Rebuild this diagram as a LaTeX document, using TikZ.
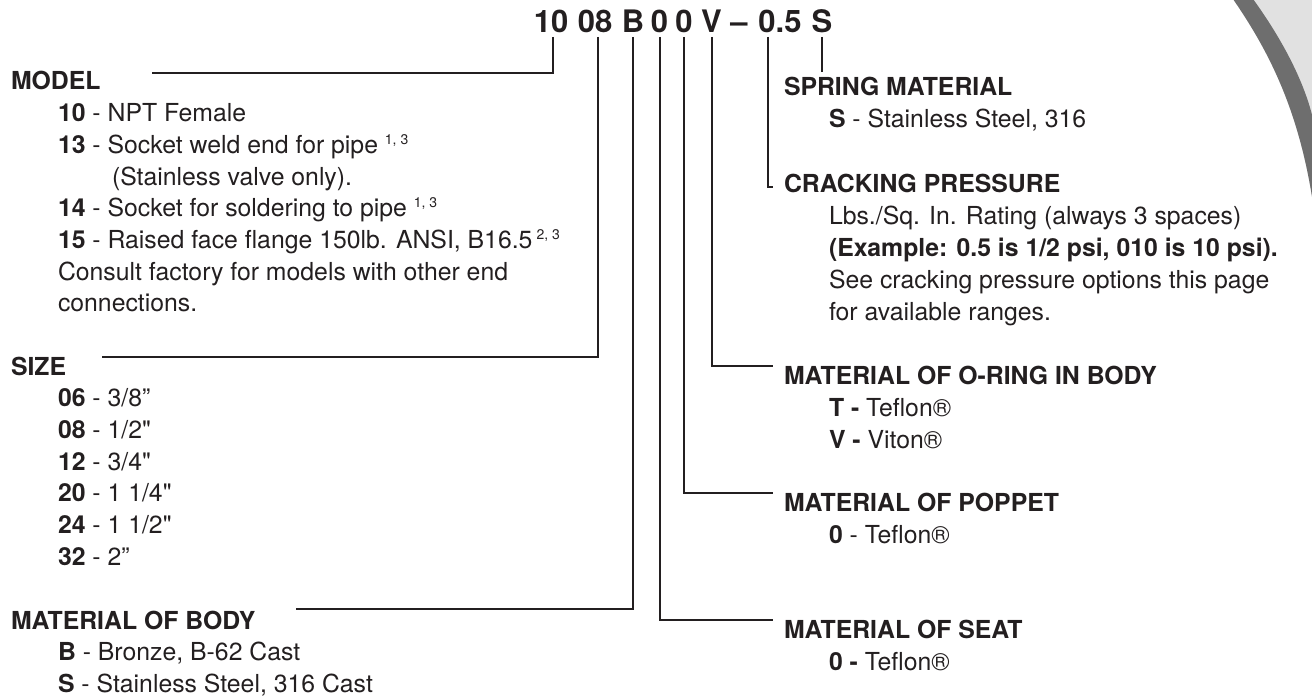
\documentclass[tikz,border=0pt]{standalone}
\usepackage{fontspec}
\setmainfont{TeX Gyre Heros}
\newfontfamily\plainheros{TeX Gyre Heros}
\usetikzlibrary{calc}
\definecolor{ink}{HTML}{231F20}
\definecolor{bandfill}{HTML}{E1E1E1}
\definecolor{banddark}{HTML}{6E6E6E}
\newcommand{\sups}[1]{\raisebox{9pt}{\fontsize{14}{14}\selectfont #1}}
\newcommand{\sq}{{\plainheros"}}
\begin{document}
\begin{tikzpicture}[x=1pt,y=-1pt,
  txt/.style={anchor=base west,inner sep=0pt,outer sep=0pt,text=ink,font=\fontsize{24.8}{29}\selectfont},
  hdr/.style={anchor=base west,inner sep=0pt,outer sep=0pt,text=ink,font=\fontsize{24.8}{29}\selectfont\bfseries},
  code/.style={anchor=base,inner sep=0pt,outer sep=0pt,text depth=0pt,text=ink,font=\fontsize{31}{31}\selectfont\bfseries},
  conn/.style={draw=ink,line width=2pt}]
\useasboundingbox (0,0) rectangle (1312,698);
% decorative band
\begin{scope}
\clip (0,0) rectangle (1312,698);
\fill[bandfill] (1233,-1) .. controls (1268,50) and (1300,110) .. (1314,210) -- (1340,210) -- (1340,-1) -- cycle;
\fill[banddark] (1233,-1) .. controls (1268,50) and (1300,110) .. (1314,210)
  -- (1313,180) .. controls (1330,125) and (1290,50) .. (1253,-1) -- cycle;
\end{scope}
% code
\node[code] (c10) at (551,33) {10};
\node[code] (c08) at (595,33) {08};
\node[code] (cB) at (633,33) {B};
\node[code] (c0a) at (659.5,33) {0};
\node[code] (c0b) at (684,33) {0};
\node[code] (cV) at (711.5,33) {V};
\node[code] (cdash) at (739,33) {\textendash};
\node[code] (c05) at (780,33) {0.5};
\node[code] (cS) at (822,33) {S};
% left column
\node[hdr] (model) at (11,90) {MODEL};
\node[txt] (m1) at (58,121.7) {\textbf{10} - NPT Female};
\node[txt] (m2) at (58,153.4) {\textbf{13} - Socket weld end for pipe \sups{1, 3}};
\node[txt] (m3) at (112,185.1) {(Stainless valve only).};
\node[txt] (m4) at (58,216.8) {\textbf{14} - Socket for soldering to pipe \sups{1, 3}};
\node[txt] (m5) at (58,248.5) {\textbf{15} - Raised face flange 150lb. ANSI, B16.5\,\sups{2, 3}};
\node[txt] (m6) at (58,280.2) {Consult factory for models with other end};
\node[txt] (m7) at (58,311.9) {connections.};
\node[hdr] (size) at (11,375) {SIZE};
\node[txt] (s1) at (58,406.7) {\textbf{06} - 3/8''};
\node[txt] (s2) at (58,438.4) {\textbf{08} - 1/2\sq};
\node[txt] (s3) at (58,470.1) {\textbf{12} - 3/4\sq};
\node[txt] (s4) at (58,501.8) {\textbf{20} - 1 1/4\sq};
\node[txt] (s5) at (58,533.5) {\textbf{24} - 1 1/2\sq};
\node[txt] (s6) at (58,565.2) {\textbf{32} - 2''};
\node[hdr] (body) at (11,629) {MATERIAL OF BODY};
\node[txt] (b1) at (58,660.7) {\textbf{B} - Bronze, B-62 Cast};
\node[txt] (b2) at (58,692.4) {\textbf{S} - Stainless Steel, 316 Cast};
% right column
\node[hdr] (spring) at (784,96) {SPRING MATERIAL};
\node[txt] (sp1) at (829,128) {\textbf{S} - Stainless Steel, 316};
\node[hdr] (crack) at (784,192) {CRACKING PRESSURE};
\node[txt] (cr1) at (829,224) {Lbs./Sq. In. Rating (always 3 spaces)};
\node[txt] (cr2) at (829,256) {\textbf{(Example: 0.5 is 1/2 psi, 010 is 10 psi).}};
\node[txt] (cr3) at (829,288) {See cracking pressure options this page};
\node[txt] (cr4) at (829,320) {for available ranges.};
\node[hdr] (oring) at (784,384) {MATERIAL OF O-RING IN BODY};
\node[txt] (or1) at (829,416) {\textbf{T -} Teflon®};
\node[txt] (or2) at (829,448) {\textbf{V -} Viton®};
\node[hdr] (poppet) at (784,511) {MATERIAL OF POPPET};
\node[txt] (po1) at (829,543) {\textbf{0} - Teflon®};
\node[hdr] (seat) at (784,638) {MATERIAL OF SEAT};
\node[txt] (se1) at (829,670) {\textbf{0 -} Teflon®};
% connector ends
\coordinate (mL) at (152,73);
\coordinate (sL) at (102,357);
\coordinate (bL) at (296,609);
\coordinate (seatL) at (773,620);
\coordinate (popL) at (773,493);
\coordinate (oringL) at (773,366);
\coordinate (crackL) at (773,187);
\coordinate (springL) at (822,72);
% connectors
\draw[conn] ($(c10.south)+(2,4)$) |- (mL);
\draw[conn] ($(c08.south)+(3,4)$) |- (sL);
\draw[conn] ($(cB.south)+(0,4)$) |- (bL);
\draw[conn] ($(c0a.south)+(0,4)$) |- (seatL);
\draw[conn] ($(c0b.south)+(0,4)$) |- (popL);
\draw[conn] ($(cV.south)+(0,4)$) |- (oringL);
\draw[conn] ($(c05.south)+(-12,4)$) |- (crackL);
\draw[conn] ($(cS.south)+(0,4)$) -- (springL);
\end{tikzpicture}
\end{document}
